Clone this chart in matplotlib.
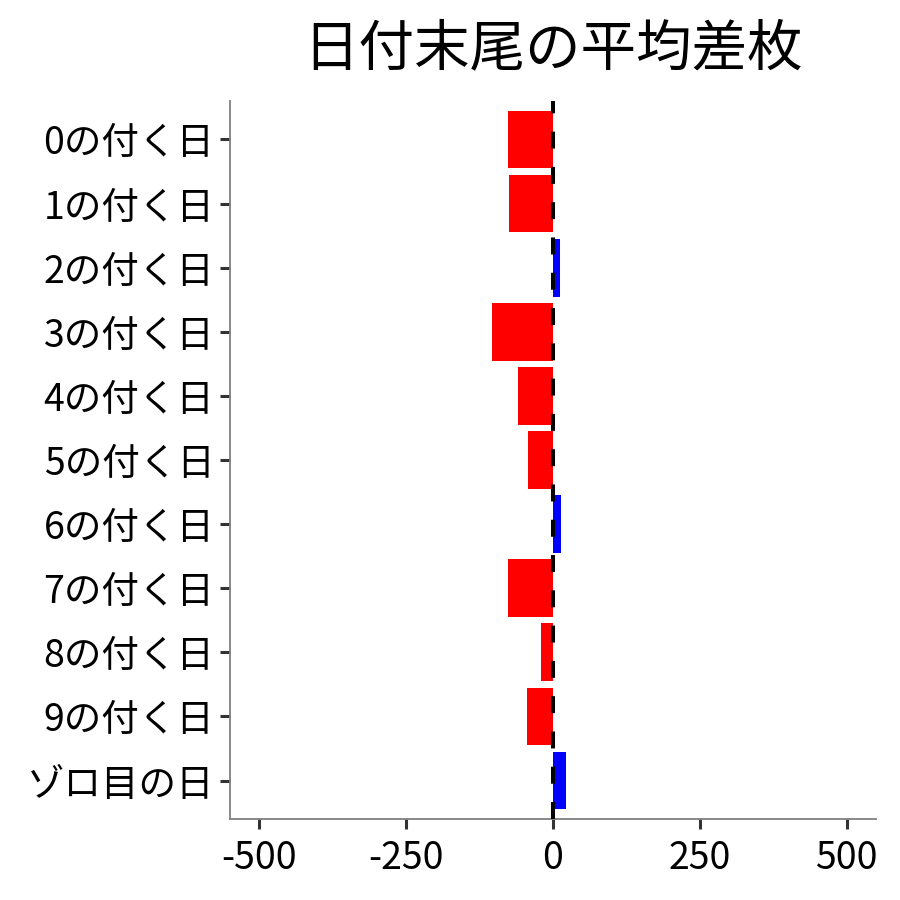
import matplotlib
matplotlib.use("Agg")
import matplotlib.pyplot as plt

plt.rcParams['font.family'] = ['Noto Sans CJK JP', 'DejaVu Sans']

categories = ["0の付く日", "1の付く日", "2の付く日", "3の付く日", "4の付く日",
              "5の付く日", "6の付く日", "7の付く日", "8の付く日", "9の付く日", "ゾロ目の日"]
values = [-77, -75, 12, -104, -60, -42, 14, -77, -20, -45, 22]
x_ticks = [-500, -250, 0, 250, 500]
x_tick_labels = ["-500", "-250", "0", "250", "500"]
title = "日付末尾の平均差枚"

fig = plt.figure(figsize=(9, 9), dpi=100)
ax = fig.add_axes([0.2556, 0.09, 0.7178, 0.7978])

ypos = list(range(len(categories)))
colors = ["red" if v < 0 else "blue" for v in values]
ax.barh(ypos, values, height=0.9, color=colors, zorder=2)
ax.axvline(0, color="black", linewidth=2.9, linestyle=(0, (4.22, 4.54)), zorder=3)

ax.set_xlim(-550, 550)
ax.set_ylim(len(categories) - 0.4, -0.6)
ax.set_yticks(ypos)
ax.set_yticklabels(categories, fontsize=27)
ax.set_xticks(x_ticks)
ax.set_xticklabels(x_tick_labels, fontsize=27)

for s in ["top", "right"]:
    ax.spines[s].set_visible(False)
for s in ["left", "bottom"]:
    ax.spines[s].set_color("#808080")
    ax.spines[s].set_linewidth(1.3)
ax.tick_params(axis="both", length=7.3, width=2.2, color="#333333", labelcolor="black", pad=4)
ax.tick_params(axis="x", pad=7)

fig.suptitle(title, fontsize=40, x=0.6144, y=0.977, va="top")

fig.savefig("out.png", dpi=100)
